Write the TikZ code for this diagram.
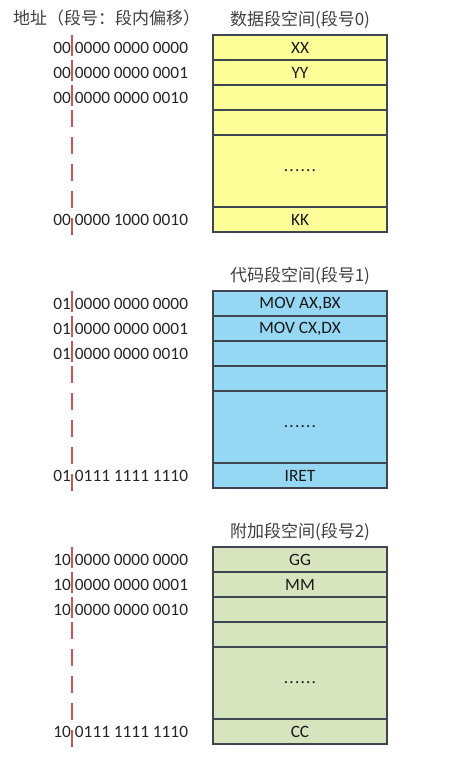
\documentclass[tikz,border=0pt]{standalone}
\usepackage{fontspec}
\setmainfont{Carlito}
\newfontfamily\cjk{Noto Sans CJK SC}
\usetikzlibrary{positioning}
\definecolor{segyellow}{RGB}{255,255,153}
\definecolor{segblue}{RGB}{150,216,244}
\definecolor{seggreen}{RGB}{215,228,189}
\definecolor{cellline}{RGB}{62,70,80}
\definecolor{splitred}{RGB}{200,88,88}

\tikzset{
  cell/.style={draw=cellline, line width=1.3pt, outer sep=0pt, inner sep=0pt,
    minimum width=174pt, minimum height=25pt, text=black!90,
    font=\fontsize{17.3}{20}\selectfont},
  addr/.style={inner sep=0pt, outer sep=0pt, text=black!85,
    font=\fontsize{17.3}{20}\selectfont},
  segtitle/.style={inner sep=0pt, text=black!75, font=\cjk\fontsize{17}{20}\selectfont},
  split/.style={draw=splitred, line width=1.2pt}
}

\newcommand{\moredots}{.\kern1.2pt.\kern1.2pt.\kern1.2pt.\kern1.2pt.\kern1.2pt.}

% one segment: name, top y, fill, title, number, first, second, last address, last
\newcommand{\drawseg}[9]{%
  \node[cell, fill=#3, anchor=north west] (#1r0) at (213,#2) {#6};
  \node[cell, fill=#3, below=0pt of #1r0] (#1r1) {#7};
  \node[cell, fill=#3, below=0pt of #1r1] (#1r2) {};
  \node[cell, fill=#3, below=0pt of #1r2] (#1r3) {};
  \node[cell, fill=#3, minimum height=72pt, below=0pt of #1r3] (#1r4) {\moredots};
  \node[cell, fill=#3, below=0pt of #1r4] (#1r5) {#9};
  \node[segtitle, above=6pt of #1r0] (#1t) {#4};
  % addresses
  \node[addr, left=25pt of #1r0] (#1a0) {0000 0000 0000};
  \node[addr, left=25pt of #1r1] (#1a1) {0000 0000 0001};
  \node[addr, left=25pt of #1r2] (#1a2) {0000 0000 0010};
  \node[addr, left=25pt of #1r5] (#1a5) {#8};
  \foreach \i in {0,1,2,5}
    \node[addr, left=4pt of #1a\i] (#1p\i) {#5};
  % segment / offset split
  \coordinate (#1top) at (72,#2);
  \coordinate (#1mid) at (#1r2.south -| #1top);
  \coordinate (#1bot) at ([yshift=-4pt]#1r5.south -| #1top);
  \draw[split, dash pattern=on 21pt off 4pt] (#1top) -- (#1mid);
  \draw[split, dash pattern=on 17pt off 10pt] (#1mid) -- (#1bot);
}

\begin{document}
\begin{tikzpicture}[x=1pt, y=-1pt]
  \useasboundingbox[fill=white] (0,0) rectangle (449,769);

  \node[segtitle, anchor=west] (hdr) at (13,18) {地址（段号：段内偏移）};

  \drawseg{d}{35}{segyellow}{数据段空间(段号0)}{00}{XX}{YY}{0000 1000 0010}{KK}
  \drawseg{c}{291}{segblue}{代码段空间(段号1)}{01}{MOV AX,BX}{MOV CX,DX}{0111 1111 1110}{IRET}
  \drawseg{e}{547}{seggreen}{附加段空间(段号2)}{10}{GG}{MM}{0111 1111 1110}{CC}
\end{tikzpicture}
\end{document}
